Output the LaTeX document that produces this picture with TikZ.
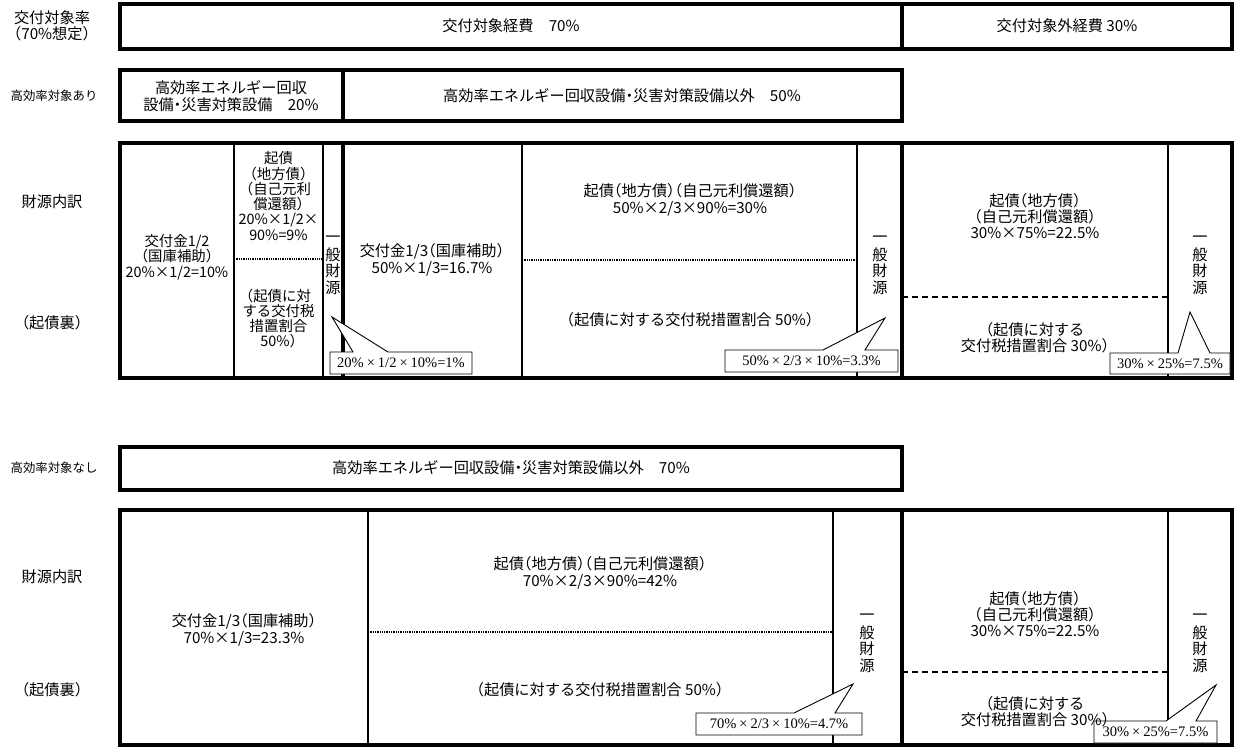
\documentclass[tikz,border=0pt]{standalone}
\usepackage{fontspec}
\setmainfont{Noto Sans CJK JP}[RawFeature=+halt]
\newfontfamily\cof{Liberation Serif}
\newcommand\msz{\fontsize{15.2}{16.4}\selectfont}
\newcommand\nsz{\fontsize{14.4}{15.3}\selectfont}
\newcommand\ssz{\fontsize{12.4}{14}\selectfont}
\newcommand\csz{\cof\fontsize{14.5}{15}\selectfont}
\newcommand\tm{\kern3pt×\kern3pt}
\tikzset{
  thk/.style={line width=3.4pt, line join=miter},
  thn/.style={line width=1.5pt},
  dotl/.style={line width=1.3pt, dash pattern=on 1.3pt off 1pt},
  dshl/.style={line width=1.2pt, dash pattern=on 6pt off 4pt},
  txt/.style={align=center, inner sep=0pt, font=\msz},
  ntxt/.style={align=center, inner sep=0pt, font=\nsz},
  small/.style={align=center, inner sep=0pt, font=\ssz},
  cbox/.style={draw, line width=0.9pt, fill=white, line join=miter},
  ctxt/.style={inner sep=0pt, font=\csz}
}
\begin{document}
\begin{tikzpicture}[x=1pt,y=-1pt]
\useasboundingbox (0,0) rectangle (1237,748);
\fill[white] (0,0) rectangle (1237,748);

% ---------- Row 1 ----------
\draw[thk] (902,4) -- (902,49);
\draw[thk] (120,4) rectangle (1232,49);
% ---------- Row 2 ----------
\draw[thk] (343,70) -- (343,121);
\draw[thk] (120,70) rectangle (902,121);
% ---------- Row 3 ----------
\foreach \xx in {234,323,522,857,1168} \draw[thn] (\xx,143) -- (\xx,378);
\foreach \xx in {343,902} \draw[thk] (\xx,143) -- (\xx,378);
\draw[dotl] (234,259) -- (323,259);
\draw[dotl] (522,260) -- (857,260);
\draw[dshl] (902,297) -- (1168,297);
\draw[thk] (120,143) rectangle (1232,378);
% ---------- Row 4 ----------
\draw[thk] (120,447) rectangle (902,490);
% ---------- Row 5 ----------
\foreach \xx in {368,833,1168} \draw[thn] (\xx,510) -- (\xx,745);
\draw[thk] (902,510) -- (902,745);
\draw[dotl] (368,632) -- (833,632);
\draw[dshl] (902,672) -- (1168,672);
\draw[thk] (120,510) rectangle (1232,745);

% ---------- Callouts ----------
\draw[cbox] (330,352) -- (353,352) -- (332,317) -- (388,352) -- (472,352) -- (472,374) -- (330,374) -- cycle;
\node[ctxt] (c1) at (401,363) {20\%\tm1/2\tm10\%=1\%};
\draw[cbox] (725,350) -- (823,350) -- (885,318) -- (865,350) -- (898,350) -- (898,372) -- (725,372) -- cycle;
\node[ctxt] (c2) at (811.5,361) {50\%\tm2/3\tm10\%=3.3\%};
\draw[cbox] (1110,353) -- (1178,353) -- (1190,312) -- (1210,353) -- (1230,353) -- (1230,374) -- (1110,374) -- cycle;
\node[ctxt] (c3) at (1170,363.5) {30\%\tm25\%=7.5\%};
\draw[cbox] (696,713) -- (794,713) -- (853,684) -- (835,713) -- (862,713) -- (862,735) -- (696,735) -- cycle;
\node[ctxt] (c4) at (779,724) {70\%\tm2/3\tm10\%=4.7\%};
\draw[cbox] (1094,721) -- (1166,721) -- (1216,685) -- (1196,721) -- (1217,721) -- (1217,743) -- (1094,743) -- cycle;
\node[ctxt] (c5) at (1155.5,732) {30\%\tm25\%=7.5\%};

% ---------- Left labels ----------
\node[txt] (l1) at (52,26) {交付対象率\\（70\%想定）};
\node[small] (l2) at (54,96) {高効率対象あり};
\node[txt] (l3) at (52,202) {財源内訳};
\node[txt] (l4) at (52,323) {（起債裏）};
\node[small] (l5) at (54,468) {高効率対象なし};
\node[txt] (l6) at (52,577) {財源内訳};
\node[txt] (l7) at (52,690) {（起債裏）};

% ---------- Row texts ----------
\node[txt] (r1a) at (511,26) {交付対象経費　70\%};
\node[txt] (r1b) at (1067,26) {交付対象外経費 30\%};
\node[txt] (r2a) at (231,96) {高効率エネルギー回収\\設備・災害対策設備　20\%};
\node[txt] (r2b) at (622,96) {高効率エネルギー回収設備・災害対策設備以外　50\%};
\node[txt] (r4) at (511,468) {高効率エネルギー回収設備・災害対策設備以外　70\%};

% row 3
\node[ntxt] (a1) at (177,257) {交付金1/2\\（国庫補助）\\20\%×1/2=10\%};
\node[ntxt] (a2) at (278.5,196) {起債\\（地方債）\\（自己元利\\償還額）\\20\%×1/2×\\90\%=9\%};
\node[ntxt] (a3) at (278.5,318.5) {（起債に対\\する交付税\\措置割合\\50\%）};
\node[txt] (a4) at (333,262) {\vphantom{般}一\\[2pt]般\\財\\源};
\node[txt] (a5) at (432,260) {交付金1/3（国庫補助）\\50\%×1/3=16.7\%};
\node[txt] (a6) at (690,200) {起債（地方債）（自己元利償還額）\\50\%×2/3×90\%=30\%};
\node[txt] (a7) at (690,320) {（起債に対する交付税措置割合 50\%）};
\node[txt] (a8) at (880,262) {\vphantom{般}一\\[2pt]般\\財\\源};
\node[txt] (a9) at (1035,216) {起債（地方債）\\（自己元利償還額）\\30\%×75\%=22.5\%};
\node[txt] (a10) at (1035,338) {（起債に対する\\交付税措置割合 30\%）};
\node[txt] (a11) at (1200,262) {\vphantom{般}一\\[2pt]般\\財\\源};

% row 5
\node[txt] (b1) at (244,630) {交付金1/3（国庫補助）\\70\%×1/3=23.3\%};
\node[txt] (b2) at (600,573) {起債（地方債）（自己元利償還額）\\70\%×2/3×90\%=42\%};
\node[txt] (b3) at (600,690) {（起債に対する交付税措置割合 50\%）};
\node[txt] (b4) at (867,640) {\vphantom{般}一\\[2pt]般\\財\\源};
\node[txt] (b5) at (1035,614) {起債（地方債）\\（自己元利償還額）\\30\%×75\%=22.5\%};
\node[txt] (b6) at (1035,712) {（起債に対する\\交付税措置割合 30\%）};
\node[txt] (b7) at (1200,640) {\vphantom{般}一\\[2pt]般\\財\\源};
\end{tikzpicture}
\end{document}
